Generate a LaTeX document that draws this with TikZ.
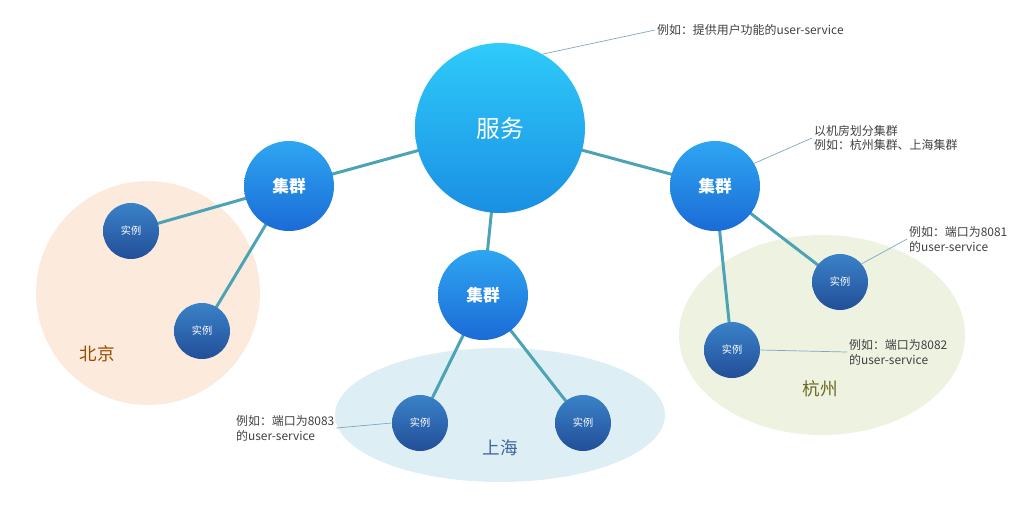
\documentclass[tikz,border=0pt]{standalone}
\usepackage{fontspec}
\newfontfamily\cjk{Noto Sans CJK SC}
\definecolor{conn}{HTML}{4BA3B5}
\definecolor{ann}{HTML}{7FA8C0}
\definecolor{svcT}{HTML}{2FCBFA}\definecolor{svcB}{HTML}{1A8FE3}
\definecolor{cluT}{HTML}{2EA6F2}\definecolor{cluB}{HTML}{1B6BD6}
\definecolor{insT}{HTML}{3A82C8}\definecolor{insB}{HTML}{224E98}
\definecolor{bjF}{HTML}{FCEBDD}\definecolor{shF}{HTML}{DDEFF5}\definecolor{hzF}{HTML}{EEF2E1}
\begin{document}
\begin{tikzpicture}[x=0.02cm,y=-0.02cm,font=\cjk,
  svc/.style={circle,minimum size=170*0.02cm,top color=svcT,bottom color=svcB,text=white,font=\cjk\fontsize{13.5}{15}\selectfont,inner sep=0},
  clu/.style={circle,minimum size=90*0.02cm,top color=cluT,bottom color=cluB,text=white,font=\cjk\fontsize{9.5}{11}\selectfont\bfseries,inner sep=0},
  inst/.style={circle,minimum size=56*0.02cm,top color=insT,bottom color=insB,text=white,font=\cjk\fontsize{5.8}{7}\selectfont,inner sep=0},
  link/.style={conn,line width=1.7pt},
  note/.style={ann,line width=0.4pt},
  txt/.style={font=\cjk\fontsize{6.8}{8.5}\selectfont,text=black!75,align=left,anchor=west,inner sep=1pt}]
\useasboundingbox (0,0) rectangle (1028,518);
\fill[bjF] (148,293) circle[radius=112];
\fill[shF] (500,415) ellipse[x radius=165,y radius=67];
\fill[hzF] (822,335) ellipse[x radius=143,y radius=100];
\node[text=orange!60!black,font=\cjk\fontsize{10}{12}\selectfont] (bj) at (97,354) {北京};
\node[text=cyan!50!blue!70!black,font=\cjk\fontsize{10}{12}\selectfont] (sh) at (500,448) {上海};
\node[text=olive!70!black,font=\cjk\fontsize{10}{12}\selectfont] (hz) at (820,389) {杭州};
\coordinate (S) at (500,128);
\coordinate (C1) at (289,186);\coordinate (C2) at (483,295);\coordinate (C3) at (715,186);
\coordinate (I1) at (131,231);\coordinate (I2) at (202,331);\coordinate (I3) at (420,423);
\coordinate (I4) at (583,423);\coordinate (I5) at (840,282);\coordinate (I6) at (732,350);
\draw[link] (S)--(C1) (S)--(C2) (S)--(C3) (C1)--(I1) (C1)--(I2) (C2)--(I3) (C2)--(I4) (C3)--(I5) (C3)--(I6);
\node[svc] (s) at (S) {服务};
\node[clu] (c1) at (C1) {集群};\node[clu] (c2) at (C2) {集群};\node[clu] (c3) at (C3) {集群};
\node[inst] (i1) at (I1) {实例};\node[inst] (i2) at (I2) {实例};\node[inst] (i3) at (I3) {实例};
\node[inst] (i4) at (I4) {实例};\node[inst] (i5) at (I5) {实例};\node[inst] (i6) at (I6) {实例};
\node[txt] (t1) at (655,30) {例如：提供用户功能的user-service};
\node[txt] (t2) at (812,138) {以机房划分集群\\例如：杭州集群、上海集群};
\node[txt] (t3) at (907,239) {例如：端口为8081\\的user-service};
\node[txt] (t4) at (847,352) {例如：端口为8082\\的user-service};
\node[txt] (t5) at (234,428) {例如：端口为8083\\的user-service};
\draw[note] (s.60) -- (t1.west);
\draw[note] (c3.30) -- (t2.west);
\draw[note] (i5.40) -- (t3.west);
\draw[note] (i6.east) -- (t4.west);
\draw[note] (i3.west) -- (t5.east);
\end{tikzpicture}
\end{document}
